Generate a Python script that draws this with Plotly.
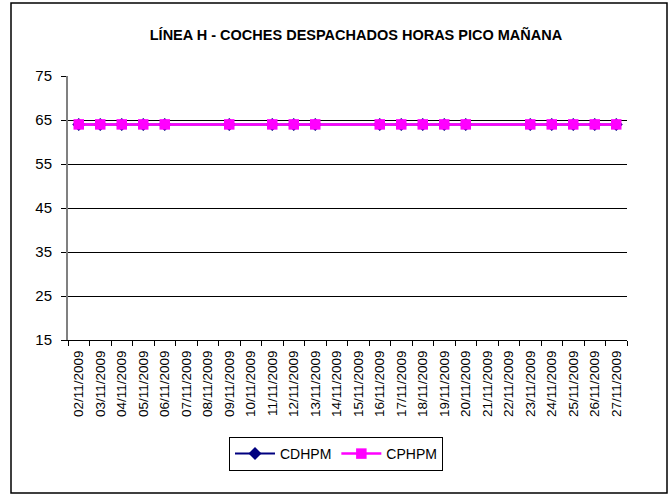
import plotly.graph_objects as go

dates = ["02/11/2009", "03/11/2009", "04/11/2009", "05/11/2009", "06/11/2009",
         "07/11/2009", "08/11/2009", "09/11/2009", "10/11/2009", "11/11/2009",
         "12/11/2009", "13/11/2009", "14/11/2009", "15/11/2009", "16/11/2009",
         "17/11/2009", "18/11/2009", "19/11/2009", "20/11/2009", "21/11/2009",
         "22/11/2009", "23/11/2009", "24/11/2009", "25/11/2009", "26/11/2009",
         "27/11/2009"]
cdhpm = [64, 64, 64, 64, 64, None, None, 64, None, 64, 64, 64, None, None,
         64, 64, 64, 64, 64, None, None, 64, 64, 64, 64, 64]
cphpm = [64, 64, 64, 64, 64, None, None, 64, None, 64, 64, 64, None, None,
         64, 64, 64, 64, 64, None, None, 64, 64, 64, 64, 64]
y_ticks = [15, 25, 35, 45, 55, 65, 75]

fig = go.Figure()
fig.add_trace(go.Scatter(x=dates, y=cdhpm, name="CDHPM", mode="lines+markers",
                         connectgaps=True,
                         line=dict(color="#000080", width=2),
                         marker=dict(symbol="diamond", size=10, color="#000080")))
fig.add_trace(go.Scatter(x=dates, y=cphpm, name="CPHPM", mode="lines+markers",
                         connectgaps=True,
                         line=dict(color="#FF00FF", width=2.5),
                         marker=dict(symbol="square", size=10.5, color="#FF00FF")))

L, R, T, B = 68, 627, 76, 340
W, H = 671, 495
pw, ph = R - L, B - T

def px(x):
    return (x - L) / pw

def py(y):
    return (B - y) / ph

fig.update_layout(
    width=W, height=H,
    margin=dict(l=L, r=W - R, t=T, b=H - B, autoexpand=False),
    paper_bgcolor="white", plot_bgcolor="white",
    font=dict(family="Liberation Sans, Arial, sans-serif", color="black", size=13),
    title=dict(text="<b>LÍNEA H - COCHES DESPACHADOS HORAS PICO MAÑANA</b>",
               x=356 / W, xanchor="center", y=1 - 35 / H, yanchor="middle",
               font=dict(size=14.5, color="black")),
    showlegend=True,
    legend=dict(orientation="h", x=px(336), xanchor="center", y=py(437), yanchor="top",
                bordercolor="black", borderwidth=1, bgcolor="white",
                font=dict(size=14), itemwidth=40),
    xaxis=dict(type="category", showgrid=False, showline=True, linecolor="black",
               linewidth=1, ticks="outside", tickson="boundaries", ticklen=5,
               tickcolor="black", tickangle=-90, tickfont=dict(size=13.5),
               ticklabelstandoff=4,
               range=[-0.5, len(dates) - 0.5], automargin=False),
    yaxis=dict(range=[15, 75], tickvals=y_ticks, showgrid=True, gridcolor="black",
               gridwidth=1, showline=True, linecolor="#808080", linewidth=2,
               ticks="outside", ticklen=5, tickcolor="black", tickfont=dict(size=15),
               ticklabelstandoff=6,
               zeroline=False, automargin=False),
    shapes=[dict(type="rect", xref="paper", yref="paper",
                 x0=px(11), x1=px(667), y0=py(493), y1=py(3),
                 line=dict(color="black", width=1.5), fillcolor="rgba(0,0,0,0)",
                 layer="below")],
)

fig.write_html("out.html", config={"displayModeBar": False})

with open("out.html", "r", encoding="utf-8") as f:
    html = f.read()
html = html.replace("<body>", '<body style="margin:0;padding:0;">', 1)
html = html.replace("<head>", "<head><style>html,body{margin:0;padding:0;overflow:hidden;}</style>", 1)
with open("out.html", "w", encoding="utf-8") as f:
    f.write(html)
